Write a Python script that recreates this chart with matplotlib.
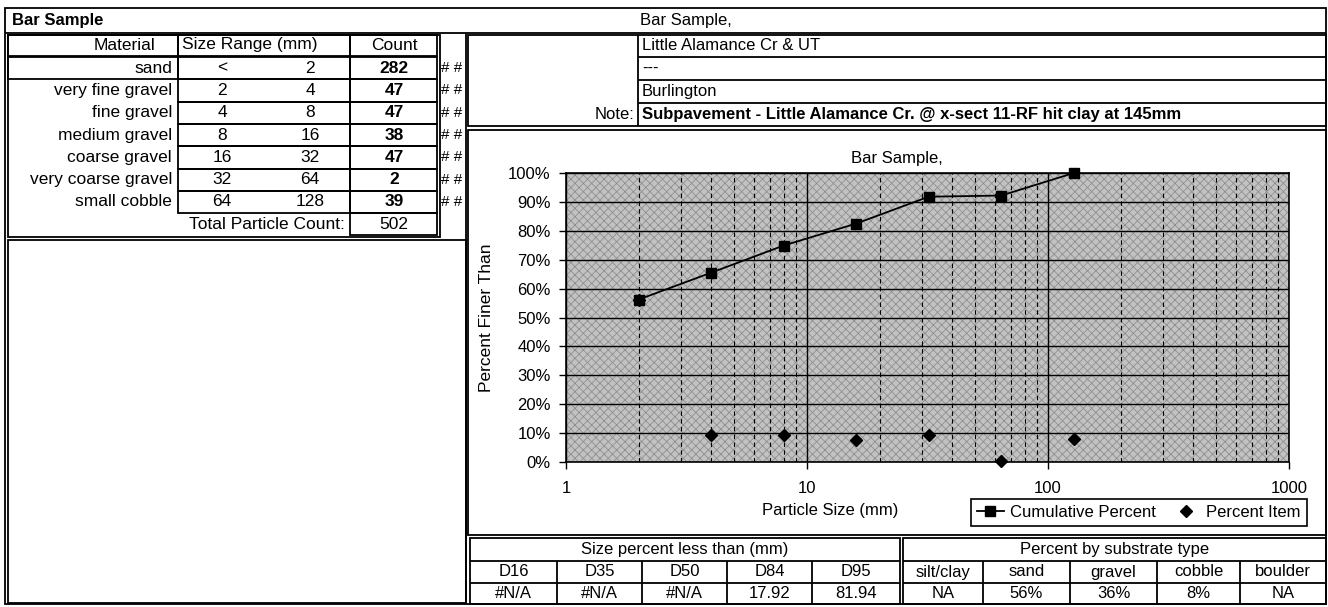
import matplotlib
matplotlib.use('Agg')
import matplotlib.pyplot as plt
from matplotlib.patches import Rectangle
from matplotlib.lines import Line2D
from matplotlib.ticker import FixedLocator, NullFormatter, FuncFormatter

plt.rcParams['font.family'] = ['Liberation Sans', 'DejaVu Sans']
plt.rcParams['hatch.linewidth'] = 0.6

W, H = 1328, 607

# ---------------- data ----------------
sheet_title = "Bar Sample"
chart_title = "Bar Sample,"
materials = ["sand", "very fine gravel", "fine gravel", "medium gravel",
             "coarse gravel", "very coarse gravel", "small cobble"]
size_lo = ["<", "2", "4", "8", "16", "32", "64"]
size_hi = ["2", "4", "8", "16", "32", "64", "128"]
counts = [282, 47, 47, 38, 47, 2, 39]
total_count = 502
particle_size = [2, 4, 8, 16, 32, 64, 128]
cumulative_pct = [56.2, 65.5, 74.9, 82.5, 91.8, 92.2, 100.0]
item_pct = [56.2, 9.4, 9.4, 7.6, 9.4, 0.4, 7.8]
info_lines = ["Little Alamance Cr & UT", "---", "Burlington",
              "Subpavement - Little Alamance Cr. @ x-sect 11-RF hit clay at 145mm"]
d_labels = ["D16", "D35", "D50", "D84", "D95"]
d_values = ["#N/A", "#N/A", "#N/A", "17.92", "81.94"]
sub_labels = ["silt/clay", "sand", "gravel", "cobble", "boulder"]
sub_values = ["NA", "56%", "36%", "8%", "NA"]
x_ticks = [1, 10, 100, 1000]
y_ticks = [0, 10, 20, 30, 40, 50, 60, 70, 80, 90, 100]

# ---------------- figure / pixel overlay ----------------
fig = plt.figure(figsize=(W / 100, H / 100), dpi=100)
fig.patch.set_facecolor('white')
bg = fig.add_axes([0, 0, 1, 1])
bg.set_xlim(0, W)
bg.set_ylim(H, 0)
bg.axis('off')

LW = 1.3
FS = 12.5


def box(x0, y0, x1, y1, lw=LW):
    bg.add_patch(Rectangle((x0, y0), x1 - x0, y1 - y0, fill=False,
                           ec='black', lw=lw))


def hline(y, x0, x1, lw=LW):
    bg.plot([x0, x1], [y, y], color='black', lw=lw, solid_capstyle='butt')


def vline(x, y0, y1, lw=LW):
    bg.plot([x, x], [y0, y1], color='black', lw=lw, solid_capstyle='butt')


def txt(x, y, s, ha='left', bold=False, size=FS):
    bg.text(x, y, s, ha=ha, va='center', fontsize=size,
            fontweight='bold' if bold else 'normal')


# outer frame + title row
box(5, 8, 1326, 604)
hline(33, 5, 1326)
txt(12, 21, sheet_title, bold=True, size=12)
txt(640, 21, chart_title, size=12)

# ---------------- left table ----------------
box(8, 35, 440, 237)
box(8, 35, 178, 56)
box(178, 35, 350, 56)
box(350, 35, 437, 56)
txt(155, 45, "Material", ha='right')
txt(182, 45, "Size Range (mm)")
txt(394, 45, "Count", ha='center')

row_h = 22.3
for i, m in enumerate(materials):
    y0 = 57 + i * row_h
    yc = y0 + row_h / 2
    if i == 0:
        box(8, y0, 178, y0 + row_h)
    box(178, y0, 350, y0 + row_h)
    box(350, y0, 437, y0 + row_h)
    txt(172, yc, m, ha='right')
    txt(222, yc, size_lo[i], ha='center')
    txt(310, yc, size_hi[i], ha='center')
    txt(394, yc, str(counts[i]), ha='center', bold=True)
    txt(441, yc, "# #", size=11)

yt = 57 + 7 * row_h
box(350, yt, 437, yt + 22)
txt(345, yt + 11, "Total Particle Count:", ha='right')
txt(394, yt + 11, str(total_count), ha='center')

vline(466, 33, 604)
box(8, 240, 466, 603)

# ---------------- right info box ----------------
info_rows = [35, 57, 80, 103, 126]
box(468, info_rows[0], 1326, info_rows[-1])
vline(638, info_rows[0], info_rows[-1])
for yy in info_rows[1:-1]:
    hline(yy, 638, 1326)
for i, s in enumerate(info_lines):
    yc = (info_rows[i] + info_rows[i + 1]) / 2
    txt(642, yc, s, bold=(i == 3), size=12)
txt(634, (info_rows[3] + info_rows[4]) / 2, "Note:", ha='right', size=12)

# chart box
box(468, 130, 1326, 535)
bg.text(897, 158, chart_title, ha='center', va='center', fontsize=12)

# ---------------- bottom tables ----------------
lcols = [470, 557, 642, 727, 812, 900]
rcols = [903, 983, 1070, 1157, 1240, 1326]
rows_b = [538, 561, 583, 604]
for cols, head, labs, vals in [(lcols, "Size percent less than (mm)", d_labels, d_values),
                               (rcols, "Percent by substrate type", sub_labels, sub_values)]:
    box(cols[0], rows_b[0], cols[-1], rows_b[-1])
    hline(rows_b[1], cols[0], cols[-1])
    hline(rows_b[2], cols[0], cols[-1])
    for xx in cols[1:-1]:
        vline(xx, rows_b[1], rows_b[-1])
    txt((cols[0] + cols[-1]) / 2, (rows_b[0] + rows_b[1]) / 2, head, ha='center', size=12)
    for j in range(5):
        xc = (cols[j] + cols[j + 1]) / 2
        txt(xc, (rows_b[1] + rows_b[2]) / 2, labs[j], ha='center', size=12)
        txt(xc, (rows_b[2] + rows_b[3]) / 2, vals[j], ha='center', size=12)

# ---------------- chart ----------------
px0, px1, py0, py1 = 566, 1289, 173, 462
ax = fig.add_axes([px0 / W, 1 - py1 / H, (px1 - px0) / W, (py1 - py0) / H])
ax.set_xscale('log')
ax.set_xlim(1, 1000)
ax.set_ylim(0, 100)
ax.patch.set_facecolor('#c2c2c2')
ax.add_patch(Rectangle((0, 0), 1, 1, transform=ax.transAxes, facecolor='none',
                       hatch='xxxx', edgecolor='#8f8f8f', lw=0, zorder=0.5))

ax.yaxis.set_major_locator(FixedLocator(y_ticks))
ax.yaxis.set_major_formatter(FuncFormatter(lambda v, p: f"{v:.0f}%"))
ax.xaxis.set_major_locator(FixedLocator(x_ticks))
ax.xaxis.set_major_formatter(FuncFormatter(lambda v, p: f"{v:g}"))
minor = [m * d for d in (1, 10, 100) for m in range(2, 10)]
ax.xaxis.set_minor_locator(FixedLocator(minor))
ax.xaxis.set_minor_formatter(NullFormatter())

ax.grid(True, which='major', axis='both', color='black', lw=1.0)
ax.grid(True, which='minor', axis='x', color='black', lw=0.8, linestyle=(0, (4, 3)))
ax.tick_params(axis='y', which='major', direction='out', length=5, width=1,
               labelsize=12, pad=6)
ax.tick_params(axis='x', which='major', direction='out', length=5, width=1,
               labelsize=12, pad=9)
ax.tick_params(axis='x', which='minor', length=0)
for sp in ax.spines.values():
    sp.set_color('black')
    sp.set_linewidth(1.2)

ax.plot(particle_size, item_pct, linestyle='none', marker='D', color='black',
        markersize=6.5, zorder=3, clip_on=False)
ax.plot(particle_size, cumulative_pct, color='black', lw=1.3, marker='s',
        markersize=7, zorder=4, clip_on=False)

ax.set_ylabel("Percent Finer Than", fontsize=12.5, labelpad=10)
bg.text(830, 511, "Particle Size (mm)", ha='center', va='center', fontsize=12)

handles = [Line2D([], [], color='black', lw=1.3, marker='s', markersize=6.5),
           Line2D([], [], color='black', lw=0, marker='D', markersize=6)]
leg = fig.legend(handles, ["Cumulative Percent", "Percent Item"], loc='center',
                 bbox_to_anchor=((970 + 1308) / 2 / W, 1 - 512.5 / H), ncol=2,
                 frameon=True, fancybox=False, edgecolor='black', fontsize=12,
                 handlelength=1.6, columnspacing=1.0, handletextpad=0.4,
                 borderpad=0.35, framealpha=1)
leg.get_frame().set_linewidth(1.2)

fig.savefig('out.png', dpi=100, facecolor='white')
